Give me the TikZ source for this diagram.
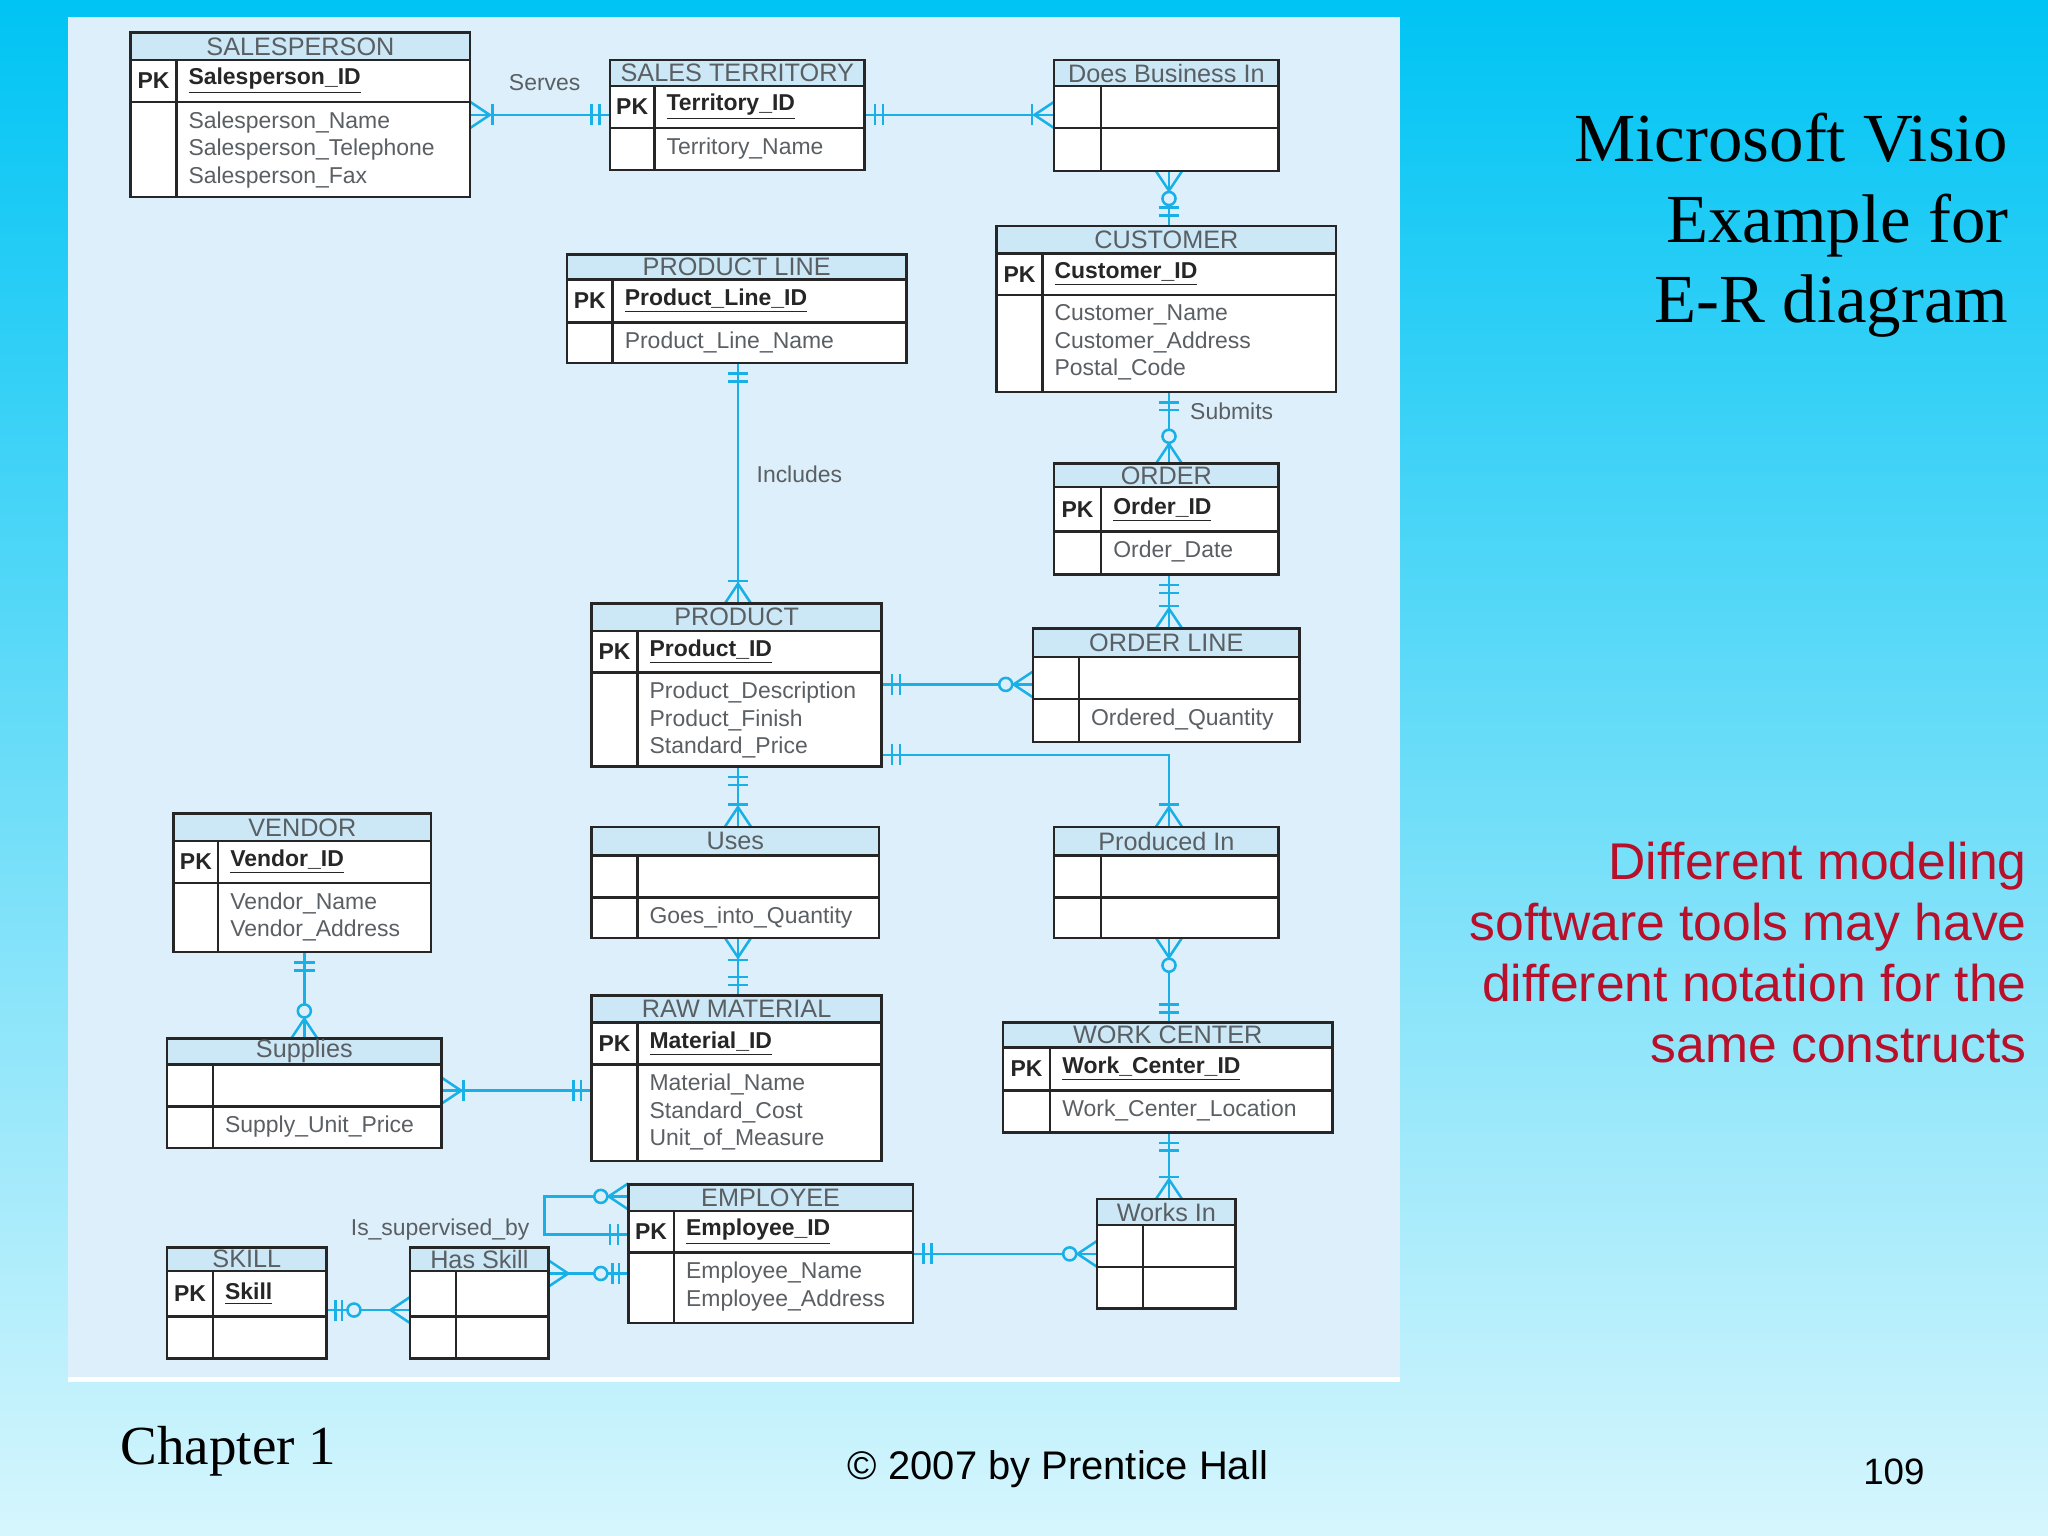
\documentclass[tikz,border=0pt]{standalone}
\usepackage{fontspec}
\setmainfont{Liberation Sans}
\newfontfamily\serif{Liberation Serif}
\definecolor{bgtop}{HTML}{00C4F4}
\definecolor{bgbot}{HTML}{D6F6FD}
\definecolor{panel}{HTML}{DCEFFA}
\definecolor{tband}{HTML}{CCE8F6}
\definecolor{conn}{HTML}{18B0E6}
\definecolor{gtext}{HTML}{5A5F63}
\definecolor{redt}{HTML}{B8102A}
\tikzset{
  box/.style={draw=black!85,line width=1.1pt},
  ttl/.style={font=\fontsize{11}{12}\selectfont,text=gtext,inner sep=0pt},
  pk/.style={font=\bfseries\fontsize{10}{12}\selectfont,text=black!85,inner sep=0pt},
  att/.style={font=\fontsize{10}{12}\selectfont,text=gtext,inner sep=0pt,align=left,anchor=north west},
  lbl/.style={font=\fontsize{10}{12}\selectfont,text=gtext,inner sep=0pt},
  cn/.style={draw=conn,line width=1.1pt},
}
% entity: l t r b titlebottom pkbottom col title pkname
\newcommand\ent[9]{%
  \fill[tband] (#1,#2) rectangle (#3,#5);
  \fill[white] (#1,#5) rectangle (#3,#4);
  \draw[box] (#1,#2) rectangle (#3,#4) (#1,#5)--(#3,#5) (#1,#6)--(#3,#6) (#7,#5)--(#7,#4);
  \node[ttl] (t#1-#2) at ({(#1+#3)/2},{(#2+#5)/2}) {#8};
  \if\relax\detokenize{#9}\relax\else
  \node[pk] (p#1-#2) at ({(#1+#7)/2},{(#5+#6)/2}) {PK};
  \node[pk,anchor=west] (k#1-#2) at ({#7+9},{(#5+#6)/2}) {\underline{#9}};\fi}
\newcommand\attrs[4]{\node[att] (#1) at ({#2+9},{#3+7}) {#4};}
\newcommand\mk[4]{\begin{scope}[shift={(#1,#2)},rotate=#3]\csname mk#4\endcsname\end{scope}}
\def\mkoo{\draw[cn] (8,-8)--(8,8) (14,-8)--(14,8);}
\def\mkcrow{\draw[cn] (0,-10)--(15,0)--(0,10);}
\def\mkom{\mkcrow\draw[cn] (17,-8)--(17,8);}
\def\mkzm{\mkcrow\draw[cn,fill=panel] (21,0) circle[radius=0.1cm];}
\def\mkzo{\draw[cn] (7,-8)--(7,8) (12,-8)--(12,8);\draw[cn,fill=panel] (21,0) circle[radius=0.1cm];}
\begin{document}
\begin{tikzpicture}[x=0.02cm,y=-0.02cm]
\useasboundingbox (0,0) rectangle (1568,1176);
\shade[top color=bgtop,bottom color=bgbot] (0,0) rectangle (1568,1176);
\fill[panel] (52,13) rectangle (1072,1055);
\draw[white,line width=2pt] (52,1056)--(1072,1056);
% connectors
\draw[cn] (360,88)--(467,88); \mk{360}{88}{0}{om}\mk{467}{88}{180}{oo}
\draw[cn] (662,88)--(807,88); \mk{662}{88}{0}{oo}\mk{807}{88}{180}{om}
\draw[cn] (895,131)--(895,173); \mk{895}{131}{-90}{zm}\mk{895}{173}{90}{oo}
\draw[cn] (895,300)--(895,355); \mk{895}{300}{-90}{oo}\mk{895}{355}{90}{zm}
\draw[cn] (565,278)--(565,462); \mk{565}{278}{-90}{oo}\mk{565}{462}{90}{om}
\draw[cn] (895,440)--(895,481); \mk{895}{440}{-90}{oo}\mk{895}{481}{90}{om}
\draw[cn] (675,524)--(791,524); \mk{675}{524}{0}{oo}\mk{791}{524}{180}{zm}
\draw[cn] (675,578)-|(895,633); \mk{675}{578}{0}{oo}\mk{895}{633}{90}{om}
\draw[cn] (565,587)--(565,633); \mk{565}{587}{-90}{oo}\mk{565}{633}{90}{om}
\draw[cn] (565,718)--(565,762); \mk{565}{718}{-90}{om}\mk{565}{762}{90}{oo}
\draw[cn] (895,718)--(895,783); \mk{895}{718}{-90}{zm}\mk{895}{783}{90}{oo}
\draw[cn] (233,729)--(233,795); \mk{233}{729}{-90}{oo}\mk{233}{795}{90}{zm}
\draw[cn] (338,835)--(453,835); \mk{338}{835}{0}{om}\mk{453}{835}{180}{oo}
\draw[cn] (895,867)--(895,918); \mk{895}{867}{-90}{oo}\mk{895}{918}{90}{om}
\draw[cn] (699,960)--(840,960); \mk{699}{960}{0}{oo}\mk{840}{960}{180}{zm}
\draw[cn] (481,916)--(417,916)--(417,945)--(481,945); \mk{481}{916}{180}{zm}\mk{481}{945}{180}{oo}
\draw[cn] (420,975)--(481,975); \mk{420}{975}{0}{crow}\mk{481}{975}{180}{zo}
\draw[cn] (250,1003)--(314,1003); \mk{250}{1003}{0}{zo}\mk{314}{1003}{180}{crow}
% labels
\node[lbl] (serves) at (417,63) {Serves};
\node[lbl] (incl) at (612,363) {Includes};
\node[lbl] (subm) at (943,315) {Submits};
\node[lbl] (issup) at (337,941) {Is\_supervised\_by};
% entities
\ent{100}{25}{360}{151}{46}{78}{135}{SALESPERSON}{Salesperson\_ID}
\attrs{a1}{135}{78}{Salesperson\_Name\\Salesperson\_Telephone\\Salesperson\_Fax}
\ent{467}{46}{662}{130}{66}{98}{501}{SALES TERRITORY}{Territory\_ID}
\attrs{a2}{501}{98}{Territory\_Name}
\ent{807}{46}{979}{131}{66}{98}{843}{Does Business In}{}
\ent{763}{173}{1023}{300}{194}{226}{798}{CUSTOMER}{Customer\_ID}
\attrs{a4}{798}{226}{Customer\_Name\\Customer\_Address\\Postal\_Code}
\ent{434}{195}{694}{278}{214}{247}{469}{PRODUCT LINE}{Product\_Line\_ID}
\attrs{a5}{469}{247}{Product\_Line\_Name}
\ent{807}{355}{979}{440}{373}{407}{843}{ORDER}{Order\_ID}
\attrs{a6}{843}{407}{Order\_Date}
\ent{453}{462}{675}{587}{483}{515}{488}{PRODUCT}{Product\_ID}
\attrs{a7}{488}{515}{Product\_Description\\Product\_Finish\\Standard\_Price}
\ent{791}{481}{995}{568}{503}{535}{826}{ORDER LINE}{}
\attrs{a8}{826}{535}{Ordered\_Quantity}
\ent{133}{623}{330}{729}{644}{676}{167}{VENDOR}{Vendor\_ID}
\attrs{a9}{167}{676}{Vendor\_Name\\Vendor\_Address}
\ent{453}{633}{673}{718}{655}{687}{488}{Uses}{}
\attrs{a10}{488}{687}{Goes\_into\_Quantity}
\ent{807}{633}{979}{718}{655}{687}{843}{Produced In}{}
\ent{128}{795}{338}{879}{815}{847}{163}{Supplies}{}
\attrs{a12}{163}{847}{Supply\_Unit\_Price}
\ent{453}{762}{675}{889}{783}{815}{488}{RAW MATERIAL}{Material\_ID}
\attrs{a13}{488}{815}{Material\_Name\\Standard\_Cost\\Unit\_of\_Measure}
\ent{768}{783}{1020}{867}{802}{835}{804}{WORK CENTER}{Work\_Center\_ID}
\attrs{a14}{804}{835}{Work\_Center\_Location}
\ent{481}{907}{699}{1013}{927}{959}{516}{EMPLOYEE}{Employee\_ID}
\attrs{a15}{516}{959}{Employee\_Name\\Employee\_Address}
\ent{840}{918}{946}{1002}{938}{970}{875}{Works In}{}
\ent{128}{955}{250}{1040}{973}{1008}{163}{SKILL}{Skill}
\ent{314}{955}{420}{1040}{973}{1008}{349}{Has Skill}{}
% slide texts
\node[font=\serif\fontsize{30}{35.2}\selectfont,align=right,anchor=north east,inner sep=0pt] (title) at (1538,86) {Microsoft Visio\\Example for\\E-R diagram};
\node[font=\fontsize{22.5}{26.6}\selectfont,text=redt,align=right,anchor=north east,inner sep=0pt] (note) at (1552,644) {Different modeling\\software tools may have\\different notation for the\\same constructs};
\node[font=\serif\fontsize{24}{28}\selectfont,anchor=west,inner sep=0pt] (chap) at (92,1111) {Chapter 1};
\node[font=\fontsize{17.4}{20}\selectfont,inner sep=0pt] (copy) at (810,1125) {© 2007 by Prentice Hall};
\node[font=\fontsize{16}{20}\selectfont,inner sep=0pt] (num) at (1450,1127) {109};
\end{tikzpicture}
\end{document}
